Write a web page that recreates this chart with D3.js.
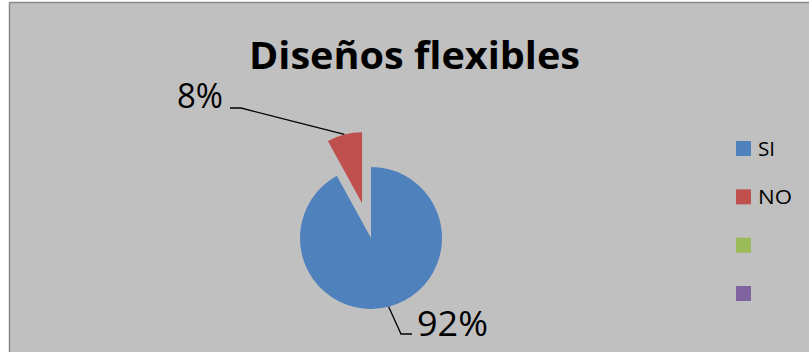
<!DOCTYPE html>
<html>
<head>
<meta charset="utf-8">
<script src="https://cdn.jsdelivr.net/npm/d3@7"></script>
<style>
  html, body { margin: 0; padding: 0; background: #ffffff; }
  svg { display: block; }
  text { font-family: "Open Sans", "Noto Sans", sans-serif; fill: #000; }
</style>
</head>
<body>
<svg id="chart" width="809" height="352"></svg>
<script>
// Survey answers for "Diseños flexibles"
const title = "Diseños flexibles";
const categories = ["SI", "NO"];
const values = [92, 8];
const percentLabels = ["92%", "8%"];
const legendLabels = ["SI", "NO", "", ""];
const palette = ["#4f81bd", "#c0504d", "#9bbb59", "#8064a2"];

const svg = d3.select("#chart");
const W = 809, H = 352;

// chart area frame
svg.append("rect")
  .attr("x", 9.5).attr("y", 2.5)
  .attr("width", W + 10).attr("height", H + 10)
  .attr("fill", "#c0c0c0")
  .attr("stroke", "#8a8a8a")
  .attr("stroke-width", 1.5);

// title
svg.append("text")
  .attr("x", 414.5).attr("y", 69)
  .attr("text-anchor", "middle")
  .attr("font-size", 38)
  .attr("font-weight", "bold")
  .attr("textLength", 331)
  .attr("lengthAdjust", "spacingAndGlyphs")
  .text(title);

// pie
const cx = 371, cy = 238, r = 71;
const explode = [0, 36];
const pie = d3.pie().sort(null).value(d => d);
const arcs = pie(values);
const arc = d3.arc().innerRadius(0).outerRadius(r);

const g = svg.append("g").attr("transform", `translate(${cx},${cy})`);

arcs.forEach((a, i) => {
  const mid = (a.startAngle + a.endAngle) / 2;
  const dx = Math.sin(mid) * explode[i];
  const dy = -Math.cos(mid) * explode[i];
  a.ox = dx; a.oy = dy; a.mid = mid;
  g.append("path")
    .attr("d", arc(a))
    .attr("transform", `translate(${dx},${dy})`)
    .attr("fill", palette[i]);
});

// data labels with leader lines
const labelLayout = [
  { elbow: [401, 334], end: [412, 334], text: [417, 336], anchor: "start", len: 71 },
  { elbow: [241, 108], end: [230, 108], text: [223, 108], anchor: "end", len: 46 }
];

arcs.forEach((a, i) => {
  const L = labelLayout[i];
  const px = cx + a.ox + Math.sin(a.mid) * r;
  const py = cy + a.oy - Math.cos(a.mid) * r;
  svg.append("path")
    .attr("d", d3.line()([[px, py], L.elbow, L.end]))
    .attr("fill", "none")
    .attr("stroke", "#000")
    .attr("stroke-width", 1.3);
  svg.append("text")
    .attr("x", L.text[0]).attr("y", L.text[1])
    .attr("text-anchor", L.anchor)
    .attr("font-size", 34)
    .attr("textLength", L.len)
    .attr("lengthAdjust", "spacingAndGlyphs")
    .text(percentLabels[i]);
});

// legend
const legendY = d3.scalePoint()
  .domain(d3.range(legendLabels.length))
  .range([141, 286]);
const legendTextLen = { "SI": 17, "NO": 34 };

const lg = svg.append("g");
legendLabels.forEach((lab, i) => {
  const y = legendY(i);
  lg.append("rect")
    .attr("x", 736).attr("y", y)
    .attr("width", 15).attr("height", 15)
    .attr("fill", palette[i]);
  if (lab) {
    lg.append("text")
      .attr("x", 758).attr("y", y + 14.5)
      .attr("font-size", 20)
      .attr("textLength", legendTextLen[lab])
      .attr("lengthAdjust", "spacingAndGlyphs")
      .text(lab);
  }
});
</script>
</body>
</html>
